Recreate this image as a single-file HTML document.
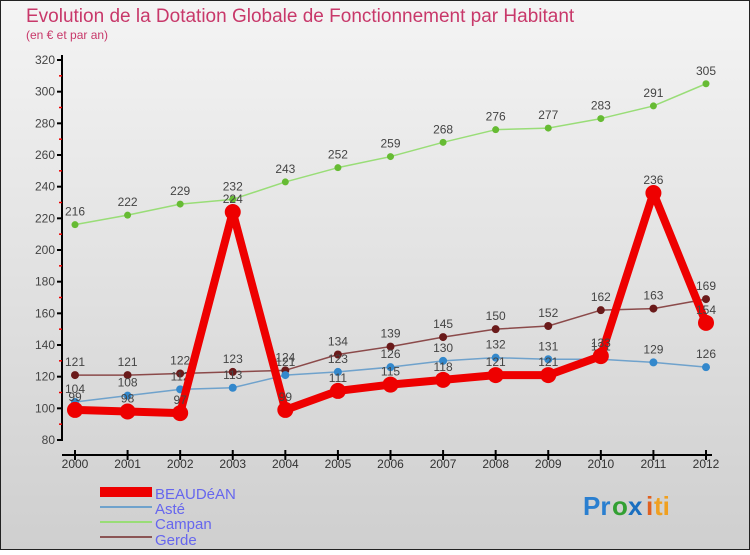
<!DOCTYPE html>
<html><head><meta charset="utf-8"><style>
body{margin:0;width:750px;height:550px;overflow:hidden;font-family:"Liberation Sans",sans-serif}
</style></head><body>
<svg width="750" height="550" xmlns="http://www.w3.org/2000/svg">
<defs><linearGradient id="bg" x1="0" y1="0" x2="0" y2="1"><stop offset="0" stop-color="#f4f4f4"/><stop offset="1" stop-color="#cfcfcf"/></linearGradient></defs>
<rect x="0.5" y="0.5" width="749" height="549" fill="url(#bg)" stroke="#222"/>
<text x="26" y="22" font-size="19" fill="#c8386a">Evolution de la Dotation Globale de Fonctionnement par Habitant</text>
<text x="26" y="39" font-size="12" fill="#c8386a">(en € et par an)</text>
<g id="axes"></g><g id="series"></g>
<g>
<rect x="100" y="487" width="52" height="10" fill="#e00"/>
<text x="155" y="499" font-size="15" fill="#6666ee">BEAUDéAN</text>
<line x1="100" y1="507" x2="152" y2="507" stroke="#6fa2cc" stroke-width="2"/>
<text x="155" y="514" font-size="15" fill="#6666ee">Asté</text>
<line x1="100" y1="522" x2="152" y2="522" stroke="#99dd77" stroke-width="2"/>
<text x="155" y="529" font-size="15" fill="#6666ee">Campan</text>
<line x1="100" y1="537" x2="152" y2="537" stroke="#8b5555" stroke-width="2"/>
<text x="155" y="545" font-size="15" fill="#6666ee">Gerde</text>
</g>
<g font-size="26" font-weight="bold">
<text x="583" y="515" fill="#2a7fd0">Pr</text><text x="612" y="515" fill="#33a033">o</text><text x="628" y="515" fill="#1a6fc0">x</text><text x="646" y="515" fill="#e06020">i</text><text x="654" y="515" fill="#f0a020">ti</text>
</g>
</svg>
<script>
const years=[2000,2001,2002,2003,2004,2005,2006,2007,2008,2009,2010,2011,2012];
const beaudean=[99,98,97,224,99,111,115,118,121,121,133,236,154];
const aste=[104,108,112,113,121,123,126,130,132,131,131,129,126];
const campan=[216,222,229,232,243,252,259,268,276,277,283,291,305];
const gerde=[121,121,122,123,124,134,139,145,150,152,162,163,169];
const yTicks=[80,100,120,140,160,180,200,220,240,260,280,300,320];
const NS="http://www.w3.org/2000/svg";
const xs=i=>75+i*(706-75)/(years.length-1);
const ys=v=>440-(v-80)*(380/240);
function mk(tag,attrs,parent){const e=document.createElementNS(NS,tag);for(const k in attrs)e.setAttribute(k,attrs[k]);parent.appendChild(e);return e;}
const ax=document.getElementById('axes');
mk('line',{x1:62,y1:55,x2:62,y2:441,stroke:'#000','stroke-width':2},ax);
mk('line',{x1:62,y1:455,x2:712,y2:455,stroke:'#000','stroke-width':2},ax);
yTicks.forEach(t=>{
 mk('line',{x1:57,y1:ys(t),x2:62,y2:ys(t),stroke:'#000','stroke-width':2},ax);
 if(t<320) mk('line',{x1:59,y1:ys(t+10),x2:62,y2:ys(t+10),stroke:'#e00','stroke-width':1.5},ax);
 const tx=mk('text',{x:55,y:ys(t)+4,'font-size':12,fill:'#444','text-anchor':'end'},ax);tx.textContent=t;
 
 
});
years.forEach((y,i)=>{
 mk('line',{x1:xs(i),y1:450,x2:xs(i),y2:460,stroke:'#000','stroke-width':2},ax);
 const tx=mk('text',{x:xs(i),y:468,'font-size':12,fill:'#333','text-anchor':'middle'},ax);tx.textContent=y;
 
 
});
const sg=document.getElementById('series');
function series(name,data,color,lw,r,dot,labelCol){
 const g=mk('g',{},sg);
 
 
 mk('polyline',{points:data.map((v,i)=>xs(i)+','+ys(v)).join(' '),fill:'none',stroke:color,'stroke-width':lw,'stroke-linejoin':'round'},g);
 data.forEach((v,i)=>{
  const c=mk('circle',{cx:xs(i),cy:ys(v),r:r,fill:dot},g);
  
  
  const t=mk('text',{x:xs(i),y:ys(v)-9,'font-size':12,fill:'#444','text-anchor':'middle'},g);t.textContent=v;
  
  
 });
}
series('campan',campan,'#99dd77',1.5,3.5,'#66bb33');
series('gerde',gerde,'#8b4a4a',1.5,4,'#6a1a1a');
series('aste',aste,'#6fa2cc',1.5,4,'#3388cc');
series('beaudean',beaudean,'#ee0000',8,8,'#ee0000');
</script>
</body></html>
